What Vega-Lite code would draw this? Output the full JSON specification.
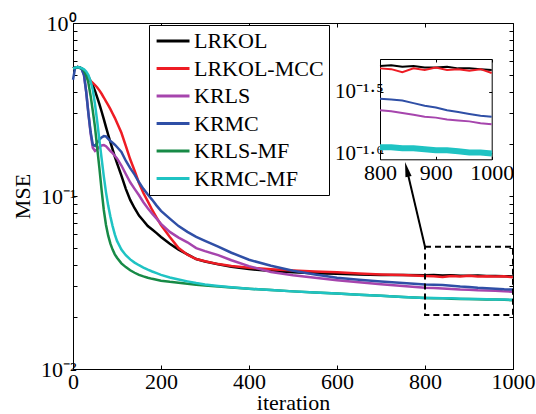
{
 "$schema": "https://vega.github.io/schema/vega-lite/v6.json",
 "width": 440,
 "height": 346,
 "autosize": {"type": "none"},
 "padding": {"left": 73, "top": 23, "right": 23, "bottom": 45},
 "background": "white",
 "config": {
  "view": {"stroke": null},
  "font": "Liberation Serif",
  "axis": {"grid": false, "domainColor": "black", "domainWidth": 1, "tickColor": "black", "tickWidth": 1, "tickSize": -4, "labelColor": "black", "titleColor": "black", "labelFont": "Liberation Serif", "titleFont": "Liberation Serif", "labelFontSize": 22, "titleFontSize": 22, "titleFontWeight": "normal", "labelOverlap": false, "labelFlush": false, "labelBound": false},
  "legend": {"labelFont": "Liberation Serif"}
 },
 "datasets": {
  "mse": [
   {"i":0,"LRKOL":0.547,"LRKOL-MCC":0.547,"KRLS":0.547,"KRMC":0.47,"KRLS-MF":0.547,"KRMC-MF":0.547},
   {"i":5,"LRKOL":0.552,"LRKOL-MCC":0.552,"KRLS":0.552,"KRMC":0.552,"KRLS-MF":0.552,"KRMC-MF":0.552},
   {"i":10,"LRKOL":0.556,"LRKOL-MCC":0.556,"KRLS":0.556,"KRMC":0.556,"KRLS-MF":0.556,"KRMC-MF":0.556},
   {"i":15,"LRKOL":0.553,"LRKOL-MCC":0.553,"KRLS":0.553,"KRMC":0.553,"KRLS-MF":0.553,"KRMC-MF":0.553},
   {"i":20,"LRKOL":0.545,"LRKOL-MCC":0.540,"KRLS":0.54,"KRMC":0.54,"KRLS-MF":0.545,"KRMC-MF":0.548},
   {"i":25,"LRKOL":0.530,"LRKOL-MCC":0.515,"KRLS":0.50,"KRMC":0.50,"KRLS-MF":0.53,"KRMC-MF":0.54},
   {"i":30,"LRKOL":0.51,"LRKOL-MCC":0.49,"KRLS":0.40,"KRMC":0.40,"KRLS-MF":0.50,"KRMC-MF":0.525},
   {"i":35,"LRKOL":0.49,"LRKOL-MCC":0.475,"KRLS":0.30,"KRMC":0.30,"KRLS-MF":0.45,"KRMC-MF":0.50},
   {"i":40,"LRKOL":0.46,"LRKOL-MCC":0.462,"KRLS":0.23,"KRMC":0.235,"KRLS-MF":0.38,"KRMC-MF":0.46},
   {"i":45,"LRKOL":0.435,"LRKOL-MCC":0.450,"KRLS":0.190,"KRMC":0.198,"KRLS-MF":0.31,"KRMC-MF":0.41},
   {"i":50,"LRKOL":0.405,"LRKOL-MCC":0.438,"KRLS":0.182,"KRMC":0.195,"KRLS-MF":0.25,"KRMC-MF":0.34},
   {"i":55,"LRKOL":0.372,"LRKOL-MCC":0.424,"KRLS":0.186,"KRMC":0.203,"KRLS-MF":0.19,"KRMC-MF":0.27},
   {"i":60,"LRKOL":0.340,"LRKOL-MCC":0.408,"KRLS":0.192,"KRMC":0.212,"KRLS-MF":0.145,"KRMC-MF":0.21},
   {"i":65,"LRKOL":0.308,"LRKOL-MCC":0.390,"KRLS":0.196,"KRMC":0.218,"KRLS-MF":0.108,"KRMC-MF":0.165},
   {"i":70,"LRKOL":0.278,"LRKOL-MCC":0.371,"KRLS":0.197,"KRMC":0.222,"KRLS-MF":0.083,"KRMC-MF":0.130},
   {"i":75,"LRKOL":0.250,"LRKOL-MCC":0.352,"KRLS":0.194,"KRMC":0.221,"KRLS-MF":0.068,"KRMC-MF":0.105},
   {"i":80,"LRKOL":0.226,"LRKOL-MCC":0.335,"KRLS":0.188,"KRMC":0.214,"KRLS-MF":0.059,"KRMC-MF":0.088},
   {"i":85,"LRKOL":0.205,"LRKOL-MCC":0.318,"KRLS":0.182,"KRMC":0.208,"KRLS-MF":0.053,"KRMC-MF":0.076},
   {"i":90,"LRKOL":0.186,"LRKOL-MCC":0.300,"KRLS":0.177,"KRMC":0.203,"KRLS-MF":0.049,"KRMC-MF":0.067},
   {"i":95,"LRKOL":0.169,"LRKOL-MCC":0.283,"KRLS":0.171,"KRMC":0.198,"KRLS-MF":0.046,"KRMC-MF":0.060},
   {"i":100,"LRKOL":0.155,"LRKOL-MCC":0.265,"KRLS":0.165,"KRMC":0.192,"KRLS-MF":0.044,"KRMC-MF":0.055},
   {"i":110,"LRKOL":0.131,"LRKOL-MCC":0.232,"KRLS":0.150,"KRMC":0.180,"KRLS-MF":0.0408,"KRMC-MF":0.049},
   {"i":120,"LRKOL":0.110,"LRKOL-MCC":0.195,"KRLS":0.134,"KRMC":0.160,"KRLS-MF":0.0388,"KRMC-MF":0.0455},
   {"i":130,"LRKOL":0.095,"LRKOL-MCC":0.163,"KRLS":0.120,"KRMC":0.145,"KRLS-MF":0.0372,"KRMC-MF":0.0430},
   {"i":140,"LRKOL":0.085,"LRKOL-MCC":0.140,"KRLS":0.110,"KRMC":0.133,"KRLS-MF":0.0360,"KRMC-MF":0.0412},
   {"i":150,"LRKOL":0.077,"LRKOL-MCC":0.119,"KRLS":0.101,"KRMC":0.120,"KRLS-MF":0.0350,"KRMC-MF":0.0398},
   {"i":160,"LRKOL":0.072,"LRKOL-MCC":0.104,"KRLS":0.092,"KRMC":0.110,"KRLS-MF":0.0343,"KRMC-MF":0.0386},
   {"i":170,"LRKOL":0.067,"LRKOL-MCC":0.093,"KRLS":0.085,"KRMC":0.102,"KRLS-MF":0.0337,"KRMC-MF":0.0375},
   {"i":180,"LRKOL":0.064,"LRKOL-MCC":0.083,"KRLS":0.079,"KRMC":0.095,"KRLS-MF":0.0332,"KRMC-MF":0.0366},
   {"i":190,"LRKOL":0.061,"LRKOL-MCC":0.075,"KRLS":0.074,"KRMC":0.088,"KRLS-MF":0.0328,"KRMC-MF":0.0358},
   {"i":200,"LRKOL":0.058,"LRKOL-MCC":0.068,"KRLS":0.069,"KRMC":0.082,"KRLS-MF":0.0324,"KRMC-MF":0.0350},
   {"i":220,"LRKOL":0.053,"LRKOL-MCC":0.058,"KRLS":0.062,"KRMC":0.074,"KRLS-MF":0.0319,"KRMC-MF":0.0338},
   {"i":240,"LRKOL":0.049,"LRKOL-MCC":0.050,"KRLS":0.0575,"KRMC":0.067,"KRLS-MF":0.0315,"KRMC-MF":0.0329},
   {"i":260,"LRKOL":0.046,"LRKOL-MCC":0.0458,"KRLS":0.054,"KRMC":0.062,"KRLS-MF":0.0311,"KRMC-MF":0.0321},
   {"i":280,"LRKOL":0.0432,"LRKOL-MCC":0.0432,"KRLS":0.050,"KRMC":0.058,"KRLS-MF":0.0307,"KRMC-MF":0.0314},
   {"i":300,"LRKOL":0.0418,"LRKOL-MCC":0.0420,"KRLS":0.048,"KRMC":0.055,"KRLS-MF":0.0304,"KRMC-MF":0.0308},
   {"i":330,"LRKOL":0.0403,"LRKOL-MCC":0.0404,"KRLS":0.0455,"KRMC":0.051,"KRLS-MF":0.0300,"KRMC-MF":0.0302},
   {"i":360,"LRKOL":0.0390,"LRKOL-MCC":0.0394,"KRLS":0.0425,"KRMC":0.047,"KRLS-MF":0.0296,"KRMC-MF":0.0297},
   {"i":400,"LRKOL":0.0378,"LRKOL-MCC":0.0385,"KRLS":0.0393,"KRMC":0.0428,"KRLS-MF":0.0291,"KRMC-MF":0.0291},
   {"i":450,"LRKOL":0.0369,"LRKOL-MCC":0.0377,"KRLS":0.0364,"KRMC":0.0395,"KRLS-MF":0.0286,"KRMC-MF":0.0286},
   {"i":500,"LRKOL":0.0362,"LRKOL-MCC":0.0371,"KRLS":0.0348,"KRMC":0.0370,"KRLS-MF":0.0281,"KRMC-MF":0.0281},
   {"i":550,"LRKOL":0.0358,"LRKOL-MCC":0.0366,"KRLS":0.0337,"KRMC":0.0352,"KRLS-MF":0.0277,"KRMC-MF":0.0277},
   {"i":600,"LRKOL":0.0355,"LRKOL-MCC":0.0362,"KRLS":0.0326,"KRMC":0.0337,"KRLS-MF":0.0273,"KRMC-MF":0.0273},
   {"i":650,"LRKOL":0.0352,"LRKOL-MCC":0.0356,"KRLS":0.0317,"KRMC":0.0328,"KRLS-MF":0.0269,"KRMC-MF":0.0269},
   {"i":700,"LRKOL":0.0350,"LRKOL-MCC":0.0352,"KRLS":0.0309,"KRMC":0.0320,"KRLS-MF":0.0265,"KRMC-MF":0.0265},
   {"i":750,"LRKOL":0.0349,"LRKOL-MCC":0.0349,"KRLS":0.0302,"KRMC":0.0314,"KRLS-MF":0.0261,"KRMC-MF":0.0261},
   {"i":800,"LRKOL":0.0348,"LRKOL-MCC":0.0345,"KRLS":0.0295,"KRMC":0.0308,"KRLS-MF":0.0257,"KRMC-MF":0.0257},
   {"i":820,"LRKOL":0.0349,"LRKOL-MCC":0.0344,"KRLS":0.0294,"KRMC":0.0307,"KRLS-MF":0.0256,"KRMC-MF":0.0257},
   {"i":840,"LRKOL":0.0347,"LRKOL-MCC":0.0340,"KRLS":0.0292,"KRMC":0.0306,"KRLS-MF":0.0256,"KRMC-MF":0.0256},
   {"i":860,"LRKOL":0.0348,"LRKOL-MCC":0.0345,"KRLS":0.0290,"KRMC":0.0303,"KRLS-MF":0.0255,"KRMC-MF":0.0256},
   {"i":880,"LRKOL":0.0346,"LRKOL-MCC":0.0343,"KRLS":0.0288,"KRMC":0.0300,"KRLS-MF":0.0254,"KRMC-MF":0.0255},
   {"i":900,"LRKOL":0.0346,"LRKOL-MCC":0.0346,"KRLS":0.0287,"KRMC":0.0298,"KRLS-MF":0.0254,"KRMC-MF":0.0254},
   {"i":920,"LRKOL":0.0347,"LRKOL-MCC":0.0343,"KRLS":0.0285,"KRMC":0.0295,"KRLS-MF":0.0253,"KRMC-MF":0.0254},
   {"i":940,"LRKOL":0.0345,"LRKOL-MCC":0.0344,"KRLS":0.0284,"KRMC":0.0293,"KRLS-MF":0.0252,"KRMC-MF":0.0253},
   {"i":960,"LRKOL":0.0345,"LRKOL-MCC":0.0342,"KRLS":0.0283,"KRMC":0.0291,"KRLS-MF":0.0252,"KRMC-MF":0.0252},
   {"i":980,"LRKOL":0.0344,"LRKOL-MCC":0.0344,"KRLS":0.0281,"KRMC":0.0289,"KRLS-MF":0.0251,"KRMC-MF":0.0252},
   {"i":1000,"LRKOL":0.0343,"LRKOL-MCC":0.0339,"KRLS":0.0280,"KRMC":0.0288,"KRLS-MF":0.0250,"KRMC-MF":0.0251}
  ],
  "box": [{"x1": 800, "x2": 1000, "y1": 0.0205, "y2": 0.0509}],
  "arrow": [{"x1": 800, "y1": 0.0509, "x2": 758.6, "y2": 0.1426}]
 },
 "layer": [
  {
   "layer": [
    {
     "data": {"name": "mse"},
     "transform": [{"fold": ["LRKOL", "LRKOL-MCC", "KRLS", "KRMC", "KRLS-MF", "KRMC-MF"], "as": ["series", "mse"]}],
     "mark": {"type": "line", "strokeWidth": 2.5},
     "encoding": {
      "x": {"field": "i", "type": "quantitative", "scale": {"domain": [0, 1000], "nice": false, "zero": false},
            "axis": {"orient": "bottom", "values": [0, 200, 400, 600, 800, 1000], "format": "d", "title": "iteration", "labelPadding": 6, "titlePadding": 0}},
      "y": {"field": "mse", "type": "quantitative", "scale": {"type": "log", "domain": [0.01, 1], "nice": false},
            "axis": {"orient": "left", "values": [0.01, 0.02, 0.03, 0.04, 0.05, 0.06, 0.07, 0.08, 0.09, 0.1, 0.2, 0.3, 0.4, 0.5, 0.6, 0.7, 0.8, 0.9, 1],
                     "labelExpr": "datum.value == 1 ? '10⁰' : datum.value == 0.1 ? '10⁻¹' : datum.value == 0.01 ? '10⁻²' : ''",
                     "title": "MSE", "labelPadding": 1, "titlePadding": 6}},
      "color": {"field": "series", "type": "nominal",
                "scale": {"domain": ["LRKOL", "LRKOL-MCC", "KRLS", "KRMC", "KRLS-MF", "KRMC-MF"], "range": ["#000000", "#ee1c24", "#a645ad", "#2f4fa6", "#178a46", "#1fc3c3"]},
                "legend": {"orient": "none", "legendX": 76, "legendY": 2, "title": null, "symbolType": "M-1.2,0H3.5", "symbolSize": 196, "symbolStrokeWidth": 3, "labelFont": "Liberation Serif", "labelFontSize": 22, "labelColor": "black", "labelOffset": 18, "rowPadding": 5.5, "padding": 5, "strokeColor": "black", "fillColor": "white", "labelLimit": 400}}
     }
    },
    {
     "data": {"name": "box"},
     "mark": {"type": "rect", "fill": "white", "fillOpacity": 0, "stroke": "black", "strokeWidth": 2, "strokeDash": [6, 4]},
     "encoding": {
      "x": {"field": "x1", "type": "quantitative", "scale": {"domain": [0, 1000], "nice": false, "zero": false},
            "axis": {"orient": "top", "values": [0, 200, 400, 600, 800, 1000], "labels": false, "title": null}},
      "x2": {"field": "x2"},
      "y": {"field": "y1", "type": "quantitative", "scale": {"type": "log", "domain": [0.01, 1], "nice": false},
            "axis": {"orient": "right", "values": [0.01, 0.02, 0.03, 0.04, 0.05, 0.06, 0.07, 0.08, 0.09, 0.1, 0.2, 0.3, 0.4, 0.5, 0.6, 0.7, 0.8, 0.9, 1], "labels": false, "title": null}},
      "y2": {"field": "y2"}
     }
    },
    {
     "data": {"name": "arrow"},
     "mark": {"type": "rule", "stroke": "black", "strokeWidth": 2},
     "encoding": {
      "x": {"field": "x1", "type": "quantitative", "scale": {"domain": [0, 1000], "nice": false, "zero": false}, "axis": null},
      "x2": {"field": "x2"},
      "y": {"field": "y1", "type": "quantitative", "scale": {"type": "log", "domain": [0.01, 1], "nice": false}, "axis": null},
      "y2": {"field": "y2"}
     }
    },
    {
     "data": {"name": "arrow"},
     "mark": {"type": "point", "shape": "M0,-1L0.42,1L-0.42,1Z", "size": 225, "filled": true, "color": "black", "opacity": 1, "angle": -13.5},
     "encoding": {
      "x": {"field": "x2", "type": "quantitative", "scale": {"domain": [0, 1000], "nice": false, "zero": false}, "axis": null},
      "y": {"field": "y2", "type": "quantitative", "scale": {"type": "log", "domain": [0.01, 1], "nice": false}, "axis": null}
     }
    }
   ],
   "resolve": {"axis": {"x": "independent", "y": "independent"}}
  },
  {
   "layer": [
    {
     "data": {"name": "mse"},
     "transform": [{"fold": ["LRKOL", "LRKOL-MCC", "KRLS", "KRMC", "KRLS-MF", "KRMC-MF"], "as": ["series", "mse"]}, {"filter": {"field": "i", "gte": 800}}],
     "mark": {"type": "line", "strokeWidth": 2},
     "encoding": {
      "x": {"field": "i", "type": "quantitative", "scale": {"domain": [800, 1000], "range": [307, 418.7], "nice": false, "zero": false},
            "axis": {"orient": "bottom", "offset": -209.7, "values": [800, 900, 1000], "format": "d", "title": null, "tickSize": -3, "labelPadding": 6}},
      "y": {"field": "mse", "type": "quantitative", "scale": {"type": "log", "domain": [0.02456, 0.03573], "range": [136.3, 36], "nice": false, "clamp": true},
            "axis": {"orient": "left", "offset": -307, "values": [0.025119, 0.031623], "labelExpr": "datum.value < 0.028 ? '10⁻¹·⁶' : '10⁻¹·⁵'", "title": null, "tickSize": -3, "labelPadding": 0, "labelFontSize": 21}},
      "color": {"field": "series", "type": "nominal",
                "scale": {"domain": ["LRKOL", "LRKOL-MCC", "KRLS", "KRMC", "KRLS-MF", "KRMC-MF"], "range": ["#000000", "#ee1c24", "#a645ad", "#2f4fa6", "#178a46", "#1fc3c3"]},
                "legend": null}
     }
    },
    {
     "data": {"name": "mse"},
     "transform": [{"fold": ["KRMC-MF"], "as": ["series", "mse"]}, {"filter": {"field": "i", "gte": 800}}],
     "mark": {"type": "line", "strokeWidth": 6},
     "encoding": {
      "x": {"field": "i", "type": "quantitative", "scale": {"domain": [800, 1000], "range": [307, 418.7], "nice": false, "zero": false},
            "axis": {"orient": "top", "offset": -36, "values": [800, 900, 1000], "labels": false, "title": null, "tickSize": -3}},
      "y": {"field": "mse", "type": "quantitative", "scale": {"type": "log", "domain": [0.02456, 0.03573], "range": [136.3, 36], "nice": false, "clamp": true},
            "axis": {"orient": "right", "offset": -21.3, "values": [0.025119, 0.031623], "labels": false, "title": null, "tickSize": -3}},
      "color": {"field": "series", "type": "nominal",
                "scale": {"domain": ["LRKOL", "LRKOL-MCC", "KRLS", "KRMC", "KRLS-MF", "KRMC-MF"], "range": ["#000000", "#ee1c24", "#a645ad", "#2f4fa6", "#178a46", "#1fc3c3"]},
                "legend": null}
     }
    }
   ],
   "resolve": {"axis": {"x": "independent", "y": "independent"}}
  }
 ],
 "resolve": {"scale": {"x": "independent", "y": "independent"}, "axis": {"x": "independent", "y": "independent"}}
}
